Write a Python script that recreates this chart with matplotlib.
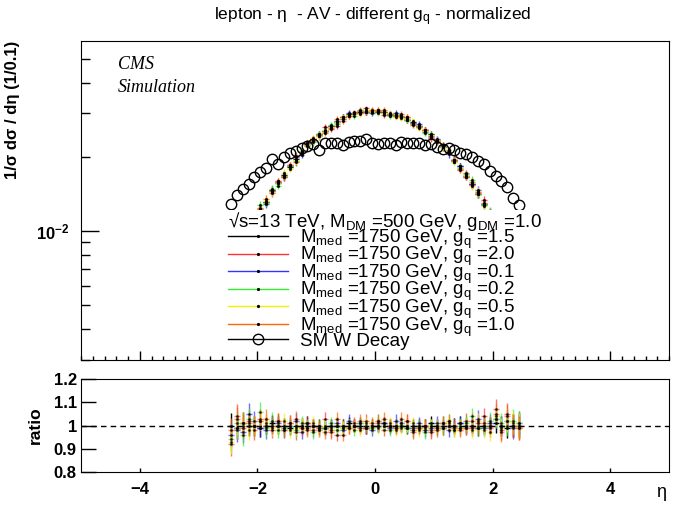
import numpy as np
import matplotlib
matplotlib.use('Agg')
import matplotlib.pyplot as plt
from matplotlib.lines import Line2D
from matplotlib.ticker import LogLocator, NullFormatter, FixedLocator, FixedFormatter, MultipleLocator

plt.rcParams['font.family'] = ['Liberation Sans', 'DejaVu Sans']
plt.rcParams['mathtext.fontset'] = 'custom'
plt.rcParams['mathtext.rm'] = 'Liberation Sans'
plt.rcParams['mathtext.it'] = 'Liberation Sans:italic'
plt.rcParams['mathtext.bf'] = 'Liberation Sans:bold'

# bin centres, width 0.1
eta = np.round(np.arange(-2.45, 2.5, 0.1), 2)

# signal shape (all g_q points sit on top of each other)
sig = [0.0075, 0.0082, 0.0090, 0.0099, 0.0109, 0.0120, 0.0131, 0.0145, 0.0156, 0.0169,
       0.0183, 0.0196, 0.0210, 0.0226, 0.0236, 0.0247, 0.0257, 0.0267, 0.0277, 0.0290,
       0.0296, 0.0300, 0.0304, 0.0308, 0.0307, 0.0305, 0.0302, 0.0299, 0.0295, 0.0291,
       0.0285, 0.0278, 0.0268, 0.0257, 0.0245, 0.0234, 0.0221, 0.0209, 0.0195, 0.0181,
       0.0168, 0.0155, 0.0143, 0.0129, 0.0118, 0.0108, 0.0098, 0.0089, 0.0081, 0.0074]

# SM W decay
sm = [0.0129, 0.0140, 0.0148, 0.0155, 0.0165, 0.0173, 0.0180, 0.0196, 0.0187, 0.0200,
      0.0208, 0.0212, 0.0218, 0.0221, 0.0226, 0.0213, 0.0228, 0.0228, 0.0228, 0.0224,
      0.0230, 0.0231, 0.0231, 0.0236, 0.0228, 0.0226, 0.0227, 0.0228, 0.0223, 0.0229,
      0.0228, 0.0228, 0.0227, 0.0223, 0.0226, 0.0220, 0.0215, 0.0217, 0.0213, 0.0208,
      0.0205, 0.0200, 0.0193, 0.0187, 0.0176, 0.0167, 0.0160, 0.0151, 0.0136, 0.0128]

# relative stat. error per bin
err = [0.055, 0.050, 0.048, 0.045, 0.043, 0.040, 0.038, 0.036, 0.035, 0.034,
       0.033, 0.032, 0.031, 0.030, 0.030, 0.029, 0.029, 0.028, 0.028, 0.028,
       0.027, 0.027, 0.027, 0.027, 0.027, 0.027, 0.027, 0.027, 0.027, 0.027,
       0.027, 0.028, 0.028, 0.028, 0.029, 0.029, 0.030, 0.030, 0.031, 0.032,
       0.033, 0.034, 0.035, 0.036, 0.038, 0.040, 0.043, 0.045, 0.048, 0.052]

# ratio for each g_q
r_15 = [1.00, 0.99, 1.01, 1.00, 1.00, 0.99, 1.00, 1.01, 1.00, 1.00, 0.99, 1.00, 1.00, 1.01, 1.00, 1.00, 0.99,
        1.00, 1.00, 1.00, 1.01, 1.00, 1.00, 0.99, 1.00, 1.00, 1.01, 1.00, 1.00, 1.00, 0.99, 1.00, 1.00,
        1.00, 1.01, 1.00, 0.99, 1.00, 1.00, 1.01, 1.00, 1.00, 0.99, 1.00, 1.00, 1.01, 1.00, 0.99, 1.00, 1.00]
r_20 = [0.92, 1.04, 0.99, 1.02, 0.98, 1.03, 1.00, 0.98, 1.02, 0.99, 1.01, 0.97, 0.99, 1.01, 0.98, 0.99, 1.03,
        0.97, 0.96, 1.00, 0.99, 1.01, 0.99, 1.02, 1.00, 1.01, 0.98, 1.00, 0.99, 1.00, 1.02, 0.97, 0.99,
        1.00, 0.97, 0.98, 1.01, 1.00, 0.99, 0.98, 1.02, 0.99, 1.01, 1.04, 0.99, 1.07, 0.98, 1.05, 1.00, 0.99]
r_01 = [0.96, 0.98, 0.97, 1.05, 1.02, 0.99, 0.98, 1.00, 1.01, 0.98, 1.00, 1.02, 0.97, 0.99, 1.00, 0.98, 0.99,
        1.00, 1.01, 0.98, 1.02, 1.00, 1.01, 0.99, 0.98, 1.00, 1.01, 0.99, 1.02, 1.01, 1.00, 0.99, 1.01,
        0.98, 0.99, 1.01, 1.00, 0.98, 1.00, 1.01, 0.99, 1.00, 1.03, 0.99, 1.01, 1.03, 1.00, 1.02, 0.99, 1.01]
r_02 = [0.94, 1.01, 0.96, 1.03, 1.00, 1.06, 0.99, 1.02, 0.98, 0.99, 1.00, 0.98, 1.01, 1.00, 0.97, 1.00, 0.99,
        1.01, 0.98, 0.99, 1.00, 0.98, 1.01, 1.00, 0.99, 1.02, 1.00, 0.98, 1.00, 1.01, 0.99, 0.98, 1.00,
        0.97, 1.00, 0.99, 1.01, 1.02, 0.98, 1.00, 1.01, 1.04, 0.99, 1.00, 1.02, 1.03, 1.01, 1.00, 1.02, 1.01]
r_05 = [0.93, 0.99, 1.01, 0.98, 1.00, 1.02, 1.01, 0.99, 1.00, 1.02, 0.98, 0.99, 1.00, 0.99, 1.01, 0.98, 1.00,
        0.99, 1.00, 0.99, 1.00, 1.00, 0.98, 1.01, 1.00, 0.99, 1.00, 1.01, 0.98, 0.99, 1.00, 1.01, 0.98,
        0.99, 1.00, 1.00, 0.99, 1.01, 0.98, 0.99, 1.00, 0.98, 1.02, 0.98, 0.97, 1.04, 0.99, 1.02, 1.01, 1.00]
r_10 = [0.98, 1.03, 1.00, 1.01, 1.00, 1.02, 1.03, 1.00, 1.02, 0.98, 1.01, 1.03, 0.99, 0.98, 1.00, 0.99, 0.97,
        0.98, 1.03, 0.96, 0.99, 1.00, 1.02, 0.99, 1.01, 1.02, 1.03, 1.00, 0.99, 1.03, 1.02, 0.98, 0.99,
        1.00, 0.98, 0.99, 1.01, 1.02, 1.00, 0.99, 0.99, 1.02, 1.00, 1.01, 1.00, 1.05, 0.97, 1.04, 1.00, 0.99]

gq_labels = ['1.5', '2.0', '0.1', '0.2', '0.5', '1.0']
ratios = [r_15, r_20, r_01, r_02, r_05, r_10]
colors = ['black', '#ff3333', '#3333ff', '#33ee33', '#f0f000', '#ff6600']

sig = np.array(sig)
err = np.array(err)

fig = plt.figure(figsize=(6.78, 5.05), dpi=100)
ax = fig.add_axes([0.1195, 0.2871, 0.8673, 0.6317])
axr = fig.add_axes([0.1195, 0.0653, 0.8673, 0.1842])

handles = []
for r, c, g in zip(ratios, colors, gq_labels):
    r = np.array(r)
    y = sig * r
    ax.errorbar(eta, y, xerr=0.05, yerr=y * err, fmt='o', ms=1.2, mfc='black', mec='black',
                ecolor=c, elinewidth=1, capsize=0, alpha=0.85 if c != 'black' else 1)
    axr.errorbar(eta, r, xerr=0.05, yerr=r * err, fmt='o', ms=1.0, mfc='black', mec='black',
                 ecolor=c, elinewidth=1, capsize=0, alpha=0.7 if c != 'black' else 1)
    handles.append(Line2D([], [], color=c, lw=1, marker='o', ms=1.3, mfc='black', mec='black',
                          label=r'M$_{\mathrm{med}}$ =1750 GeV, g$_{\mathrm{q}}$ =' + g))

ax.plot(eta, sm, ls='none', marker='o', ms=7.5, mfc='none', mec='black', mew=1)
handles.append(Line2D([], [], color='black', lw=1, marker='o', ms=7.5, mfc='none', mec='black',
                      label='SM W Decay'))

ax.set_xlim(-5, 5)
ax.set_yscale('log')
ax.set_ylim(3e-3, 0.059)
ax.yaxis.set_major_locator(FixedLocator([1e-2]))
ax.yaxis.set_major_formatter(FixedFormatter([r'$\mathbf{10^{-2}}$']))
ax.yaxis.set_minor_locator(LogLocator(base=10, subs=np.arange(2, 10)))
ax.yaxis.set_minor_formatter(NullFormatter())
ax.xaxis.set_major_locator(MultipleLocator(2))
ax.xaxis.set_minor_locator(MultipleLocator(0.2))
ax.tick_params(axis='y', which='major', direction='in', length=13, width=1, labelsize=12, pad=8)
ax.tick_params(axis='y', which='minor', direction='in', length=6.5, width=1)
ax.tick_params(axis='x', which='major', direction='in', length=6.5, width=1, labelbottom=False)
ax.tick_params(axis='x', which='minor', direction='in', length=3, width=1)
ax.set_ylabel('1/σ dσ / dη (1/0.1)', fontsize=12, fontweight='bold', loc='top')
ax.yaxis.set_label_coords(-0.104, 1.0)

ax.text(0.063, 0.925, 'CMS', transform=ax.transAxes, family='Liberation Serif', style='italic',
        fontsize=13, va='center')
ax.text(0.063, 0.855, 'Simulation', transform=ax.transAxes, family='Liberation Serif', style='italic',
        fontsize=13, va='center')

leg = ax.legend(handles=handles, loc='upper left', bbox_to_anchor=(0.337, 0.584),
                bbox_transform=fig.transFigure,
                title=r'√s=13 TeV, M$_{\mathrm{DM}}$ =500 GeV, g$_{\mathrm{DM}}$ =1.0',
                alignment='left', fontsize=13.5, title_fontsize=13.5, frameon=True, fancybox=False,
                framealpha=1, facecolor='white', edgecolor='none', labelspacing=-0.3,
                handlelength=3.2, handletextpad=0.6, borderpad=0.0, borderaxespad=0, numpoints=1)

fig.suptitle(r'lepton - η  - AV - different g$_{\mathrm{q}}$ - normalized', x=0.55, y=0.99, fontsize=12.5)

# ratio panel
axr.axhline(1.0, color='black', ls=(0, (4, 3)), lw=1)
axr.set_xlim(-5, 5)
axr.set_ylim(0.8, 1.2)
axr.set_yticks([0.8, 0.9, 1.0, 1.1, 1.2], ['0.8', '0.9', '1', '1.1', '1.2'], fontweight='bold', fontsize=12)
axr.set_xticks([-4, -2, 0, 2, 4], ['\u22124', '\u22122', '0', '2', '4'], fontweight='bold', fontsize=12)
axr.tick_params(axis='y', direction='in', length=11, width=1, pad=3)
axr.tick_params(axis='x', direction='in', length=3, width=1, pad=7)
axr.set_ylabel('ratio', fontsize=12.5, fontweight='bold')
axr.yaxis.set_label_coords(-0.065, 0.5)
axr.set_xlabel('η', fontsize=13)
axr.xaxis.set_label_coords(0.995, -0.13)
axr.xaxis.label.set_horizontalalignment('right')

fig.savefig('out.png', dpi=100)
